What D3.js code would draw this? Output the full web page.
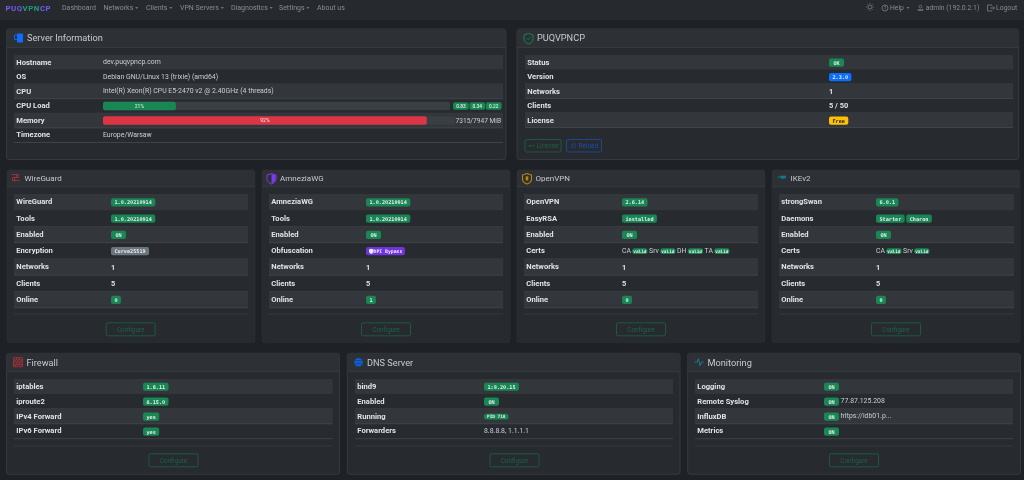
<!DOCTYPE html>
<html>
<head>
<meta charset="utf-8">
<title>PUQVPNCP</title>
<script src="https://cdn.jsdelivr.net/npm/d3@7"></script>
<style>
html, body { margin: 0; padding: 0; background: #1e2226; overflow: hidden; }
svg { display: block; filter: blur(0.3px); }
text { font-family: Roboto, "Noto Sans", sans-serif; }
</style>
</head>
<body>
<div id="chart"></div>
<script>
var navItems = ['Dashboard', 'Networks', 'Clients', 'VPN Servers', 'Diagnostics', 'Settings', 'About us'];
var navRightItems = ['Help', 'admin (192.0.2.1)', 'Logout'];

var serverLabels = ['Hostname', 'OS', 'CPU', 'CPU Load', 'Memory', 'Timezone'];
var serverValues = [['dev.puqvpncp.com'], ['Debian GNU/Linux 13 (trixie) (amd64)'], ['Intel(R) Xeon(R) CPU E5-2470 v2 @ 2.40GHz (4 threads)'], [], [], ['Europe/Warsaw']];
var cpuLoadPercent = 21;
var memoryPercent = 92;
var loadAverages = ['0.83', '0.34', '0.22'];
var memoryText = '7315/7947 MiB';

var panelLabels = ['Status', 'Version', 'Networks', 'Clients', 'License'];
var panelValues = [['OK'], ['2.3.0'], ['1'], ['5 / 50'], ['Free']];
var panelButtons = ['License', 'Reload'];

var wireguardLabels = ['WireGuard', 'Tools', 'Enabled', 'Encryption', 'Networks', 'Clients', 'Online'];
var wireguardValues = [['1.0.20210914'], ['1.0.20210914'], ['ON'], ['Curve25519'], ['1'], ['5'], ['0']];
var amneziaLabels = ['AmneziaWG', 'Tools', 'Enabled', 'Obfuscation', 'Networks', 'Clients', 'Online'];
var amneziaValues = [['1.0.20210914'], ['1.0.20210914'], ['ON'], ['DPI Bypass'], ['1'], ['5'], ['1']];
var openvpnLabels = ['OpenVPN', 'EasyRSA', 'Enabled', 'Certs', 'Networks', 'Clients', 'Online'];
var openvpnValues = [['2.6.14'], ['installed'], ['ON'], ['CA', 'valid', 'Srv', 'valid', 'DH', 'valid', 'TA', 'valid'], ['1'], ['5'], ['0']];
var ikev2Labels = ['strongSwan', 'Daemons', 'Enabled', 'Certs', 'Networks', 'Clients', 'Online'];
var ikev2Values = [['6.0.1'], ['Starter', 'Charon'], ['ON'], ['CA', 'valid', 'Srv', 'valid'], ['1'], ['5'], ['0']];

var firewallLabels = ['iptables', 'iproute2', 'IPv4 Forward', 'IPv6 Forward'];
var firewallValues = [['1.8.11'], ['6.15.0'], ['yes'], ['yes']];
var dnsLabels = ['bind9', 'Enabled', 'Running', 'Forwarders'];
var dnsValues = [['1:9.20.15'], ['ON'], ['PID 718'], ['8.8.8.8, 1.1.1.1']];
var monitoringLabels = ['Logging', 'Remote Syslog', 'InfluxDB', 'Metrics'];
var monitoringValues = [['ON'], ['ON', '77.87.125.208'], ['ON', 'https://idb01.p...'], ['ON']];

function MyDashboard() {

    this.init = function() {
        this._config = { width: 1024, height: 480 };
        this._initElements();
        this._drawNav();
        this._drawCards();
    };

    this._initElements = function() {
        this._rootNode = d3.select('#chart')
            .append('svg')
            .attr('width', this._config.width)
            .attr('height', this._config.height);
        this._rootNode.append('rect')
            .attr('width', this._config.width)
            .attr('height', this._config.height)
            .attr('fill', '#1e2226');
    };

    this._text = function(parent, x, y, str, size, color, weight, anchor) {
        return parent.append('text')
            .attr('x', x)
            .attr('y', y)
            .attr('dy', '.35em')
            .attr('font-size', size)
            .attr('fill', color)
            .attr('font-weight', weight || 400)
            .attr('text-anchor', anchor || 'start')
            .text(str);
    };

    this._drawNav = function() {
        var root = this._rootNode;
        var self = this;
        var navColor = '#878d93';
        root.append('rect').attr('width', 1024).attr('height', 20).attr('fill', '#262a2e');

        var brand = [['PUQ', '#7a5af0'], ['VPN', '#1f9d78'], ['CP', '#6a5ff0']];
        var brandNode = root.append('text').attr('x', 5.5).attr('y', 8).attr('dy', '.35em')
            .attr('font-size', 7.8).attr('font-weight', 700).attr('letter-spacing', 0.55);
        brand.forEach(function(part) {
            brandNode.append('tspan').attr('fill', part[1]).text(part[0]);
        });

        var navX = [62, 103.5, 146, 180, 231, 279, 317];
        navItems.forEach(function(item, i) {
            var node = self._text(root, navX[i], 8, item, 7, navColor);
            if (i > 0 && i < 6) {
                var end = navX[i] + node.node().getComputedTextLength() + 1.8;
                root.append('path').attr('d', 'M' + end + ' 7.2h3.2l-1.6 1.6z').attr('fill', navColor);
            }
        });

        var rightX = [890, 925.7, 996];
        navRightItems.forEach(function(item, i) {
            self._text(root, rightX[i], 8, item, 6.8, navColor);
        });
        root.append('path').attr('d', 'M906.5 7.2h3.2l-1.6 1.6z').attr('fill', navColor);

        // sun, help, user and logout glyphs
        root.append('circle').attr('cx', 870).attr('cy', 7).attr('r', 2).attr('fill', 'none').attr('stroke', navColor).attr('stroke-width', 0.7);
        d3.range(8).forEach(function(k) {
            var a = k * Math.PI / 4;
            root.append('line')
                .attr('x1', 870 + 3 * Math.cos(a)).attr('y1', 7 + 3 * Math.sin(a))
                .attr('x2', 870 + 4 * Math.cos(a)).attr('y2', 7 + 4 * Math.sin(a))
                .attr('stroke', navColor).attr('stroke-width', 0.6);
        });
        root.append('circle').attr('cx', 885).attr('cy', 8).attr('r', 3).attr('fill', 'none').attr('stroke', navColor).attr('stroke-width', 0.7);
        self._text(root, 885, 8, '?', 4.5, navColor, 400, 'middle');
        root.append('circle').attr('cx', 920.5).attr('cy', 6.5).attr('r', 1.4).attr('fill', 'none').attr('stroke', navColor).attr('stroke-width', 0.6);
        root.append('path').attr('d', 'M918 10.5h5v-1h-5z').attr('fill', 'none').attr('stroke', navColor).attr('stroke-width', 0.6);
        root.append('path').attr('d', 'M992 5.5v-0.5h-4.5v6h4.5v-0.5M990 8h4.5M993 6.5l1.5 1.5l-1.5 1.5').attr('fill', 'none').attr('stroke', navColor).attr('stroke-width', 0.7);
    };

    this._drawIcon = function(card, name, x, y) {
        var g = card.append('g').attr('transform', 'translate(' + x + ',' + y + ')');
        var shield = 'M4.5 0L9 1.5V5.5C9 8 6.8 9.7 4.5 10.5C2.2 9.7 0 8 0 5.5V1.5Z';
        if (name === 'server') {
            g.append('rect').attr('x', 3).attr('y', 0).attr('width', 6).attr('height', 9).attr('rx', 0.8).attr('fill', '#0d6efd');
            g.append('path').attr('d', 'M3 1.5H0.5V6H3').attr('fill', 'none').attr('stroke', '#0d6efd').attr('stroke-width', 0.9);
        } else if (name === 'check') {
            g.append('path').attr('d', shield).attr('fill', 'none').attr('stroke', '#198754').attr('stroke-width', 0.9);
            g.append('path').attr('d', 'M2.8 5l1.3 1.3L6.4 3.8').attr('fill', 'none').attr('stroke', '#198754').attr('stroke-width', 0.8);
        } else if (name === 'wire') {
            g.append('path').attr('d', 'M0 1H7V4H1V7H8M3 4V8M5 1V4').attr('fill', 'none').attr('stroke', '#a5303c').attr('stroke-width', 0.9);
        } else if (name === 'amnezia') {
            g.append('path').attr('d', shield).attr('fill', 'none').attr('stroke', '#7c3aed').attr('stroke-width', 1);
            g.append('path').attr('d', 'M4.5 0.5L8.5 1.8V5.5C8.5 7.7 6.5 9.2 4.5 10Z').attr('fill', '#7c3aed');
        } else if (name === 'openvpn') {
            g.append('path').attr('d', shield).attr('fill', 'none').attr('stroke', '#b8890c').attr('stroke-width', 1.1);
            g.append('rect').attr('x', 3.2).attr('y', 2.8).attr('width', 2.6).attr('height', 4).attr('fill', '#b8890c');
        } else if (name === 'key') {
            g.append('path').attr('d', 'M0 3.5H3.2M3.2 2.5H8V4.5H3.2ZM5.5 4.5V5.5').attr('fill', '#0e7c91').attr('stroke', '#0e7c91').attr('stroke-width', 0.8);
        } else if (name === 'firewall') {
            g.append('path').attr('d', 'M0 0H9V9H0ZM0 2.2H9M0 4.5H9M0 6.8H9M3 0V2.2M6 0V2.2M1.5 2.2V4.5M4.5 2.2V4.5M7.5 2.2V4.5M3 4.5V6.8M6 4.5V6.8M1.5 6.8V9M4.5 6.8V9M7.5 6.8V9')
                .attr('fill', 'none').attr('stroke', '#a5303c').attr('stroke-width', 0.9);
        } else if (name === 'globe') {
            g.append('circle').attr('cx', 4.5).attr('cy', 4.5).attr('r', 4.3).attr('fill', '#0d5fd6');
            g.append('path').attr('d', 'M0.5 3H8.5M0.5 6H8.5').attr('stroke', '#2b3035').attr('stroke-width', 0.5);
        } else if (name === 'pulse') {
            g.append('path').attr('d', 'M0 4.5H2.5L4 1L5.5 8L7 4.5H9').attr('fill', 'none').attr('stroke', '#0e8fa8').attr('stroke-width', 0.8);
        }
    };

    this._drawBadge = function(parent, x, y, str, kind) {
        var fills = { g: '#198754', s: '#6c757d', b: '#0d6efd', y: '#ffc107', p: '#7033e0', v: '#198754', r: '#198754' };
        var insets = { p: 7.5, v: 1, r: 3 };
        var slim = kind === 'v' || kind === 'r';
        var textColor = kind === 'y' ? '#212529' : '#e9ecef';
        var group = parent.append('g');
        var rect = group.append('rect');
        var inset = insets[kind] || 3.4;
        var label = this._text(group, x + inset, y + 0.2, str, slim ? 4.4 : (kind === 'p' ? 4.8 : 5.2), textColor, 700)
            .style('font-family', '"DejaVu Sans Mono", monospace');
        var w = label.node().getComputedTextLength() + inset + (kind === 'v' ? 1 : kind === 'p' ? 2.5 : kind === 'r' ? 3 : 3.4);
        if (str === 'ON' || str === 'OK') {
            w = 15;
            label.attr('x', x + 7.5).attr('text-anchor', 'middle');
        }
        rect.attr('x', x).attr('y', y - (slim ? 2.8 : 4.1)).attr('width', w)
            .attr('height', slim ? 5.6 : 8.2).attr('rx', slim ? 2.5 : 2).attr('fill', fills[kind]);
        if (kind === 'p') {
            group.append('path')
                .attr('transform', 'translate(' + (x + 3) + ',' + (y - 2.5) + ') scale(0.5)')
                .attr('d', 'M4.5 0L9 1.5V5.5C9 8 6.8 9.7 4.5 10.5C2.2 9.7 0 8 0 5.5V1.5Z')
                .attr('fill', '#e9ecef');
        }
        return w;
    };

    this._drawTable = function(card, spec) {
        var self = this;
        var rowBand = d3.scaleBand().domain(d3.range(spec.labels.length)).range(spec.rowsY);
        var labelColor = '#dfe3e7';
        var valueColor = '#c9ced3';

        spec.labels.forEach(function(label, i) {
            var top = rowBand(i);
            var bottom = top + rowBand.bandwidth();
            if (i % 2 === 0) {
                card.append('rect').attr('x', spec.tableX[0]).attr('y', top)
                    .attr('width', spec.tableX[1] - spec.tableX[0]).attr('height', rowBand.bandwidth()).attr('fill', '#33373b');
            }
            if (i > 0) {
                card.append('line').attr('x1', spec.tableX[0]).attr('x2', spec.tableX[1])
                    .attr('y1', bottom).attr('y2', bottom)
                    .attr('stroke', '#484d52').attr('stroke-width', 0.7);
            }
            var mid = top + rowBand.bandwidth() / 2 - 0.4;
            self._text(card, spec.tableX[0] + 2.3, mid, label, 7.6, labelColor, 700);

            var cursor = spec.valueX;
            (spec.values[i] || []).forEach(function(token, t) {
                var kind = (spec.kinds[i] || 't')[t] || 't';
                if (kind === 't') {
                    var node = self._text(card, cursor, mid, token, 6.9, valueColor);
                    cursor += node.node().getComputedTextLength() + 1.3;
                } else if (kind === 'n') {
                    self._text(card, cursor, mid + 0.4, token, 7.4, labelColor, 700);
                } else {
                    cursor += self._drawBadge(card, cursor, mid + 0.7, token, kind) + 1.6;
                }
            });
        });
        return rowBand;
    };

    this._drawButton = function(card, x0, x1, y0, y1, label, color) {
        card.append('rect').attr('x', x0 + 0.5).attr('y', y0 + 0.5)
            .attr('width', x1 - x0 - 1).attr('height', y1 - y0 - 1)
            .attr('rx', 1.5).attr('fill', 'none').attr('stroke', color).attr('stroke-width', 0.8);
        this._text(card, (x0 + x1) / 2, (y0 + y1) / 2, label, 6.4, color, 400, 'middle');
    };

    this._drawCard = function(spec) {
        var card = this._rootNode.append('g');
        card.append('rect').attr('x', spec.x[0]).attr('y', spec.y[0])
            .attr('width', spec.x[1] - spec.x[0]).attr('height', spec.y[1] - spec.y[0])
            .attr('rx', 2.5).attr('fill', '#272b2f')
            .attr('stroke', spec.border).attr('stroke-width', 0.7);
        card.append('path')
            .attr('d', 'M' + spec.x[0] + ' ' + spec.headY + 'V' + (spec.y[0] + 2.5) + 'Q' + spec.x[0] + ' ' + spec.y[0] + ' ' + (spec.x[0] + 2.5) + ' ' + spec.y[0] +
                'H' + (spec.x[1] - 2.5) + 'Q' + spec.x[1] + ' ' + spec.y[0] + ' ' + spec.x[1] + ' ' + (spec.y[0] + 2.5) + 'V' + spec.headY + 'Z')
            .attr('fill', '#2d3135');
        card.append('line').attr('x1', spec.x[0]).attr('x2', spec.x[1])
            .attr('y1', spec.headY).attr('y2', spec.headY).attr('stroke', '#3a3f44').attr('stroke-width', 0.7);
        this._text(card, spec.titleX, (spec.y[0] + spec.headY) / 2 - 0.2, spec.title, spec.titleSize, '#c6cbd0', 400);
        this._drawIcon(card, spec.icon, spec.titleX - 13, (spec.y[0] + spec.headY) / 2 - 4.8);
        spec.rowBand = this._drawTable(card, spec);
        if (spec.dividerY) {
            card.append('line').attr('x1', spec.tableX[0]).attr('x2', spec.tableX[1]).attr('y1', spec.dividerY).attr('y2', spec.dividerY)
                .attr('stroke', '#3c4146').attr('stroke-width', 0.7);
        }
        if (spec.buttonX) {
            this._drawButton(card, spec.buttonX, spec.buttonX + 50, spec.buttonY, spec.buttonY + 14, 'Configure', '#1a6344');
        }
        return card;
    };

    this._drawServerBars = function(card, rowBand) {
        var self = this;
        var pct = d3.scaleLinear().domain([0, 100]);
        var bars = [
            { row: 3, value: cpuLoadPercent, range: [103, 450], fill: '#198754' },
            { row: 4, value: memoryPercent, range: [103, 455], fill: '#dc3545' }
        ];
        bars.forEach(function(b) {
            var scale = pct.copy().range(b.range);
            var y = rowBand(b.row) + rowBand.bandwidth() / 2 - 4.3;
            card.append('rect').attr('x', b.range[0]).attr('y', y).attr('width', b.range[1] - b.range[0]).attr('height', 8.4)
                .attr('rx', 2).attr('fill', '#3a3f44');
            card.append('rect').attr('x', b.range[0]).attr('y', y).attr('width', scale(b.value) - b.range[0]).attr('height', 8.4)
                .attr('rx', 2).attr('fill', b.fill);
            self._text(card, scale(b.value / 2), y + 4.1, b.value + '%', 5, '#e9ecef', 400, 'middle');
        });
        var loadX = 453;
        var loadMid = rowBand(3) + rowBand.bandwidth() / 2;
        loadAverages.forEach(function(v) {
            var w = 15.8;
            card.append('rect').attr('x', loadX).attr('y', loadMid - 3.7).attr('width', w).attr('height', 7.4).attr('rx', 2).attr('fill', '#198754');
            self._text(card, loadX + w / 2, loadMid - 0.1, v, 4.8, '#e9ecef', 500, 'middle');
            loadX += w + 0.6;
        });
        this._text(card, 501, rowBand(4) + rowBand.bandwidth() / 2 - 0.4, memoryText, 6.6, '#c9ced3', 400, 'end');
    };

    this._drawCards = function() {
        var self = this;
        var strong = '#3f444a';
        var faint = '#2b2f33';

        var serverSpec = {
            x: [6.5, 506], y: [29, 159.5], headY: 47.5, border: strong, title: 'Server Information', titleX: 27, titleSize: 9.2,
            icon: 'server', labels: serverLabels, values: serverValues, kinds: [],
            tableX: [14, 503], rowsY: [55, 142.5], valueX: 103
        };
        var serverCard = this._drawCard(serverSpec);
        this._drawServerBars(serverCard, serverSpec.rowBand);

        var panelSpec = {
            x: [517, 1018.7], y: [29, 159.5], headY: 47.5, border: strong, title: 'PUQVPNCP', titleX: 537, titleSize: 9.2,
            icon: 'check', labels: panelLabels, values: panelValues, kinds: ['g', 'b', 'n', 'n', 'y'],
            tableX: [525, 1013], rowsY: [55, 127.5], valueX: 829
        };
        var panelCard = this._drawCard(panelSpec);
        this._drawButton(panelCard, 524.5, 561.5, 139, 152.5, '', '#1a6344');
        this._drawButton(panelCard, 566, 602, 139, 152.5, '', '#1d4fa8');
        this._text(panelCard, 536.5, 145.8, panelButtons[0], 6.4, '#1a6344');
        this._text(panelCard, 578.5, 145.8, panelButtons[1], 6.4, '#1d4fa8');
        panelCard.append('path').attr('d', 'M528.5 145.8h6M529.5 145.8v1.3').attr('stroke', '#1a6344').attr('stroke-width', 0.8).attr('fill', 'none');
        panelCard.append('circle').attr('cx', 573.5).attr('cy', 145.8).attr('r', 2).attr('fill', 'none').attr('stroke', '#1d4fa8').attr('stroke-width', 0.7);

        var vpnKinds = ['g', 'g', 'g', 's', 'n', 'n', 'g'];
        var vpnCards = [
            { x: [7, 255], tableX: [14, 248], valueX: 111, buttonX: 105.7, title: 'WireGuard', titleX: 24.5, icon: 'wire', labels: wireguardLabels, values: wireguardValues, kinds: vpnKinds },
            { x: [262, 510], tableX: [269, 503], valueX: 366, buttonX: 361, title: 'AmneziaWG', titleX: 280, icon: 'amnezia', labels: amneziaLabels, values: amneziaValues, kinds: ['g', 'g', 'g', 'p', 'n', 'n', 'g'] },
            { x: [517, 765], tableX: [524, 758], valueX: 622, buttonX: 616, title: 'OpenVPN', titleX: 535.5, icon: 'openvpn', labels: openvpnLabels, values: openvpnValues, kinds: ['g', 'g', 'g', 'tvtvtvtv', 'n', 'n', 'g'] },
            { x: [772, 1020], tableX: [779, 1014], valueX: 876, buttonX: 871, title: 'IKEv2', titleX: 790.5, icon: 'key', labels: ikev2Labels, values: ikev2Values, kinds: ['g', 'gg', 'g', 'tvtv', 'n', 'n', 'g'] }
        ];
        vpnCards.forEach(function(c) {
            c.y = [170, 342.7];
            c.headY = 186.7;
            c.border = faint;
            c.titleSize = 8;
            c.rowsY = [194, 307.7];
            c.dividerY = 314;
            c.buttonY = 322.3;
            self._drawCard(c);
        });

        var lowerCards = [
            { x: [6.5, 339.5], tableX: [14, 332.7], valueX: 143, buttonX: 148.5, title: 'Firewall', titleX: 26.5, icon: 'firewall', labels: firewallLabels, values: firewallValues, kinds: ['g', 'g', 'g', 'g'] },
            { x: [347.3, 680], tableX: [355, 673], valueX: 484, buttonX: 489.5, title: 'DNS Server', titleX: 367, icon: 'globe', labels: dnsLabels, values: dnsValues, kinds: ['g', 'g', 'r', 't'] },
            { x: [687.7, 1020.5], tableX: [695, 1013], valueX: 824, buttonX: 829, title: 'Monitoring', titleX: 707.5, icon: 'pulse', labels: monitoringLabels, values: monitoringValues, kinds: ['g', 'gt', 'gt', 'g'] }
        ];
        lowerCards.forEach(function(c) {
            c.y = [353.3, 474.3];
            c.headY = 371.7;
            c.border = strong;
            c.titleSize = 9.2;
            c.rowsY = [379, 438.7];
            c.dividerY = 446;
            c.buttonY = 453.3;
            self._drawCard(c);
        });
    };

    this.init();
}

function initApp() {
    if (typeof(window.myDashboard) === 'undefined') {
        window.myDashboard = new MyDashboard();
    }
}
document.addEventListener('DOMContentLoaded', initApp);
</script>
</body>
</html>
